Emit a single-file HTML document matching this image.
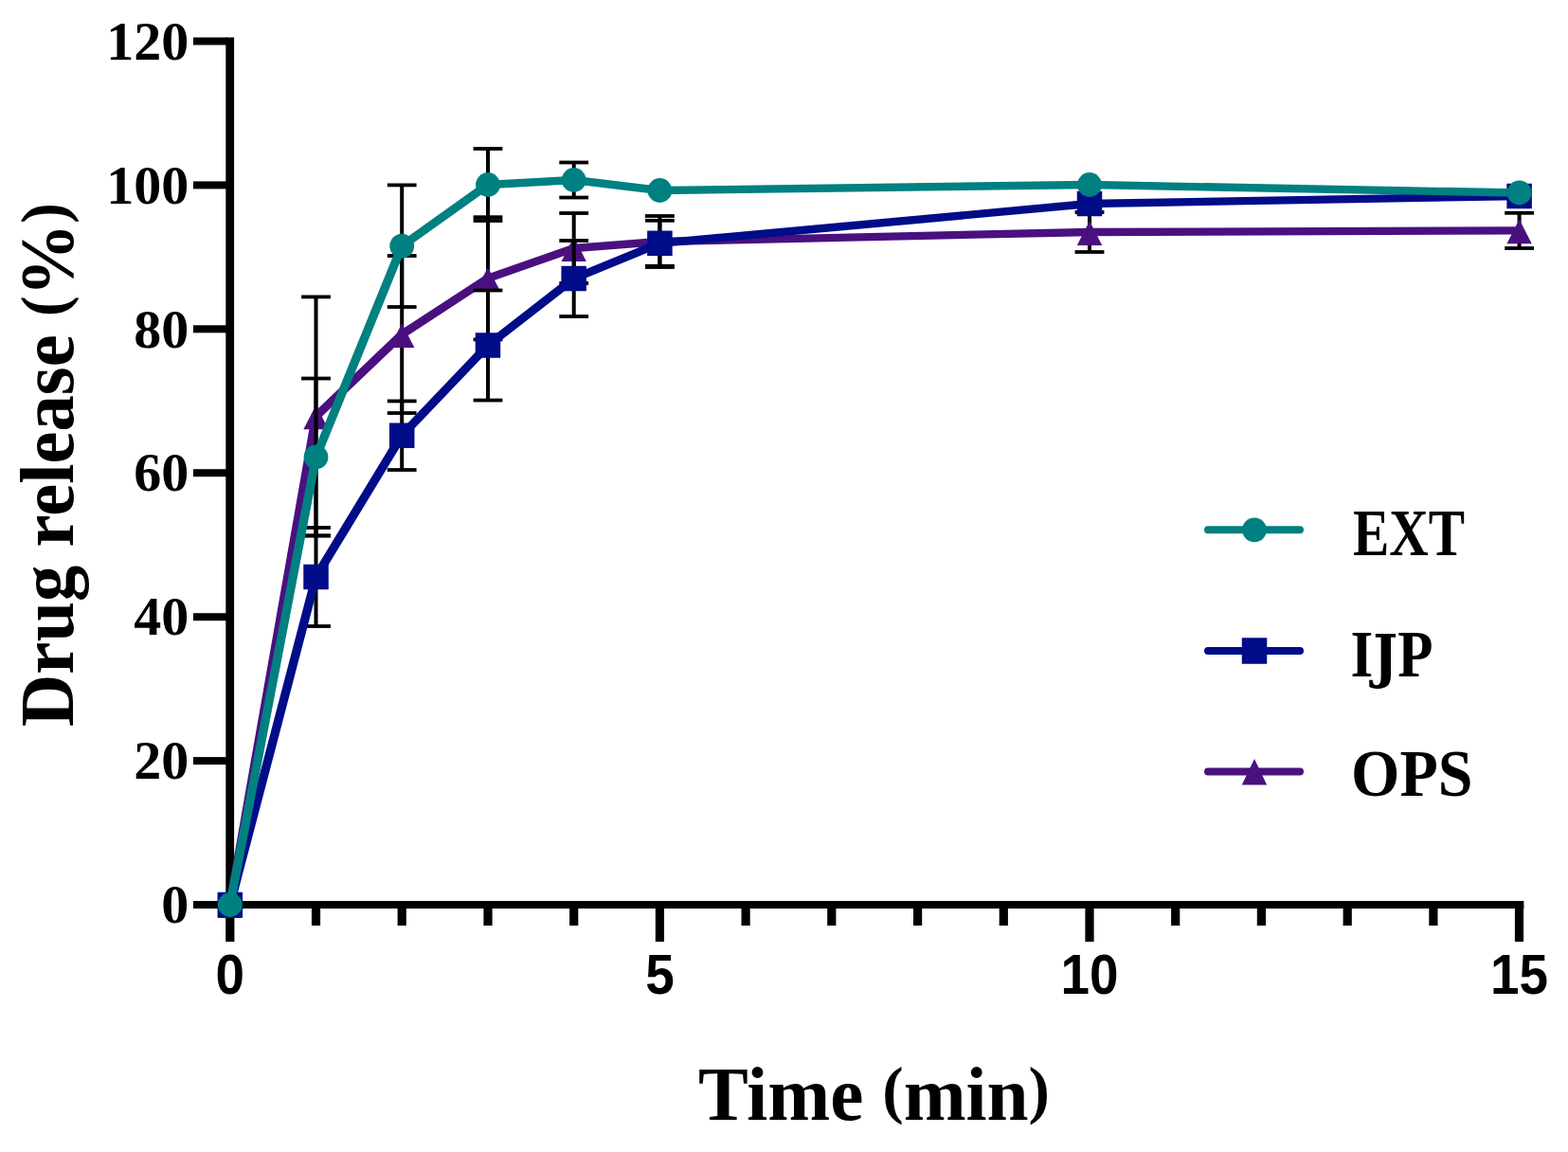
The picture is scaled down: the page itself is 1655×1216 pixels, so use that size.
<!DOCTYPE html>
<html><head><meta charset="utf-8"><title>Drug release</title>
<style>html,body{margin:0;padding:0;background:#fff;}svg{display:block;}</style></head>
<body><svg width="1655" height="1216" viewBox="0 0 1655 1216">
<rect width="1655" height="1216" fill="#fff"/>
<g fill="#000">
<rect x="238.3" y="39.5" width="8.8" height="919.5"/>
<rect x="238.3" y="951" width="1370.1" height="8"/>
<rect x="204" y="951.0" width="36" height="8"/>
<rect x="204" y="799.1" width="36" height="8"/>
<rect x="204" y="647.2" width="36" height="8"/>
<rect x="204" y="495.2" width="36" height="8"/>
<rect x="204" y="343.3" width="36" height="8"/>
<rect x="204" y="191.4" width="36" height="8"/>
<rect x="204" y="39.5" width="36" height="8"/>
<rect x="238.2" y="955" width="9.2" height="39"/>
<rect x="328.9" y="955" width="9.2" height="22"/>
<rect x="419.6" y="955" width="9.2" height="22"/>
<rect x="510.4" y="955" width="9.2" height="22"/>
<rect x="601.1" y="955" width="9.2" height="22"/>
<rect x="691.8" y="955" width="9.2" height="39"/>
<rect x="782.5" y="955" width="9.2" height="22"/>
<rect x="873.2" y="955" width="9.2" height="22"/>
<rect x="964.0" y="955" width="9.2" height="22"/>
<rect x="1054.7" y="955" width="9.2" height="22"/>
<rect x="1145.4" y="955" width="9.2" height="39"/>
<rect x="1236.1" y="955" width="9.2" height="22"/>
<rect x="1326.8" y="955" width="9.2" height="22"/>
<rect x="1417.6" y="955" width="9.2" height="22"/>
<rect x="1508.3" y="955" width="9.2" height="22"/>
<rect x="1598.9" y="955" width="9.2" height="39"/>
</g>
<g font-family="'Liberation Serif', serif" font-weight="bold" font-size="58" text-anchor="end" fill="#000">
<text x="199.3" y="974.2">0</text>
<text x="199.3" y="822.3">20</text>
<text x="199.3" y="670.4">40</text>
<text x="199.3" y="518.4">60</text>
<text x="199.3" y="366.5">80</text>
<text x="199.3" y="214.6">100</text>
<text x="199.3" y="62.7">120</text>
</g>
<g font-family="'Liberation Sans', sans-serif" font-weight="bold" font-size="59" text-anchor="middle" fill="#000">
<text transform="translate(242.8,1049) scale(0.93,1)">0</text>
<text transform="translate(696.4,1049) scale(0.93,1)">5</text>
<text transform="translate(1150.0,1049) scale(0.93,1)">10</text>
<text transform="translate(1603.5,1049) scale(0.93,1)">15</text>
</g>
<g font-family="'Liberation Serif', serif" font-weight="bold" font-size="80" fill="#000">
<text x="737" y="1181.7" textLength="371" lengthAdjust="spacingAndGlyphs">Time <tspan font-size="68" dy="-8.5">(</tspan><tspan dy="8.5">min</tspan><tspan font-size="68" dy="-8.5">)</tspan></text>
<text transform="translate(77,767) rotate(-90)" x="0" y="0" textLength="553" lengthAdjust="spacingAndGlyphs">Drug release <tspan font-size="68" dy="-8.5">(</tspan><tspan dy="8.5">%</tspan><tspan font-size="68" dy="-8.5">)</tspan></text>
</g>
<line x1="333.5" y1="313.4" x2="333.5" y2="565.4" stroke="#000" stroke-width="4"/>
<line x1="318.1" y1="313.4" x2="348.9" y2="313.4" stroke="#000" stroke-width="3.8"/>
<line x1="318.1" y1="565.4" x2="348.9" y2="565.4" stroke="#000" stroke-width="3.8"/>
<line x1="424.2" y1="270.0" x2="424.2" y2="436.0" stroke="#000" stroke-width="4"/>
<line x1="408.8" y1="270.0" x2="439.6" y2="270.0" stroke="#000" stroke-width="3.8"/>
<line x1="408.8" y1="436.0" x2="439.6" y2="436.0" stroke="#000" stroke-width="3.8"/>
<line x1="515.0" y1="229.2" x2="515.0" y2="358.4" stroke="#000" stroke-width="4"/>
<line x1="499.6" y1="229.2" x2="530.4" y2="229.2" stroke="#000" stroke-width="3.8"/>
<line x1="499.6" y1="358.4" x2="530.4" y2="358.4" stroke="#000" stroke-width="3.8"/>
<line x1="605.7" y1="225.0" x2="605.7" y2="299.0" stroke="#000" stroke-width="4"/>
<line x1="590.3" y1="225.0" x2="621.1" y2="225.0" stroke="#000" stroke-width="3.8"/>
<line x1="590.3" y1="299.0" x2="621.1" y2="299.0" stroke="#000" stroke-width="3.8"/>
<line x1="696.4" y1="228.0" x2="696.4" y2="282.0" stroke="#000" stroke-width="4"/>
<line x1="681.0" y1="228.0" x2="711.8" y2="228.0" stroke="#000" stroke-width="3.8"/>
<line x1="681.0" y1="282.0" x2="711.8" y2="282.0" stroke="#000" stroke-width="3.8"/>
<line x1="1150.0" y1="224.0" x2="1150.0" y2="266.0" stroke="#000" stroke-width="4"/>
<line x1="1134.6" y1="224.0" x2="1165.4" y2="224.0" stroke="#000" stroke-width="3.8"/>
<line x1="1134.6" y1="266.0" x2="1165.4" y2="266.0" stroke="#000" stroke-width="3.8"/>
<line x1="1603.6" y1="224.8" x2="1603.6" y2="262.0" stroke="#000" stroke-width="4"/>
<line x1="1588.2" y1="224.8" x2="1619.0" y2="224.8" stroke="#000" stroke-width="3.8"/>
<line x1="1588.2" y1="262.0" x2="1619.0" y2="262.0" stroke="#000" stroke-width="3.8"/>
<g stroke="#4a1080" stroke-linecap="round"><line x1="242.8" y1="955.0" x2="333.5" y2="439.4" stroke-width="9.28"/><line x1="333.5" y1="439.4" x2="424.2" y2="353.0" stroke-width="8.99"/><line x1="424.2" y1="353.0" x2="515.0" y2="293.8" stroke-width="8.85"/><line x1="515.0" y1="293.8" x2="605.7" y2="262.0" stroke-width="8.63"/><line x1="605.7" y1="262.0" x2="696.4" y2="255.0" stroke-width="8.38"/><line x1="696.4" y1="255.0" x2="1150.0" y2="245.0" stroke-width="8.32"/><line x1="1150.0" y1="245.0" x2="1603.6" y2="243.4" stroke-width="8.30"/></g>
<polygon points="242.8,943.2 256.0,968.9 229.6,968.9" fill="#4a1080"/>
<polygon points="333.5,427.6 346.7,453.3 320.3,453.3" fill="#4a1080"/>
<polygon points="424.2,341.2 437.4,366.9 411.0,366.9" fill="#4a1080"/>
<polygon points="515.0,282.0 528.2,307.7 501.8,307.7" fill="#4a1080"/>
<polygon points="605.7,250.2 618.9,275.9 592.5,275.9" fill="#4a1080"/>
<polygon points="696.4,243.2 709.6,268.9 683.2,268.9" fill="#4a1080"/>
<polygon points="1150.0,233.2 1163.2,258.9 1136.8,258.9" fill="#4a1080"/>
<polygon points="1603.6,231.6 1616.8,257.3 1590.4,257.3" fill="#4a1080"/>
<line x1="333.5" y1="557.0" x2="333.5" y2="661.0" stroke="#000" stroke-width="4"/>
<line x1="318.1" y1="557.0" x2="348.9" y2="557.0" stroke="#000" stroke-width="3.8"/>
<line x1="318.1" y1="661.0" x2="348.9" y2="661.0" stroke="#000" stroke-width="3.8"/>
<line x1="424.2" y1="423.4" x2="424.2" y2="496.0" stroke="#000" stroke-width="4"/>
<line x1="408.8" y1="423.4" x2="439.6" y2="423.4" stroke="#000" stroke-width="3.8"/>
<line x1="408.8" y1="496.0" x2="439.6" y2="496.0" stroke="#000" stroke-width="3.8"/>
<line x1="515.0" y1="306.5" x2="515.0" y2="422.5" stroke="#000" stroke-width="4"/>
<line x1="499.6" y1="306.5" x2="530.4" y2="306.5" stroke="#000" stroke-width="3.8"/>
<line x1="499.6" y1="422.5" x2="530.4" y2="422.5" stroke="#000" stroke-width="3.8"/>
<line x1="605.7" y1="254.0" x2="605.7" y2="334.0" stroke="#000" stroke-width="4"/>
<line x1="590.3" y1="254.0" x2="621.1" y2="254.0" stroke="#000" stroke-width="3.8"/>
<line x1="590.3" y1="334.0" x2="621.1" y2="334.0" stroke="#000" stroke-width="3.8"/>
<line x1="696.4" y1="232.8" x2="696.4" y2="280.8" stroke="#000" stroke-width="4"/>
<line x1="681.0" y1="232.8" x2="711.8" y2="232.8" stroke="#000" stroke-width="3.8"/>
<line x1="681.0" y1="280.8" x2="711.8" y2="280.8" stroke="#000" stroke-width="3.8"/>
<g stroke="#000c88" stroke-linecap="round"><line x1="242.8" y1="955.0" x2="333.5" y2="609.0" stroke-width="9.27"/><line x1="333.5" y1="609.0" x2="424.2" y2="459.7" stroke-width="9.15"/><line x1="424.2" y1="459.7" x2="515.0" y2="364.5" stroke-width="9.02"/><line x1="515.0" y1="364.5" x2="605.7" y2="294.0" stroke-width="8.91"/><line x1="605.7" y1="294.0" x2="696.4" y2="256.8" stroke-width="8.68"/><line x1="696.4" y1="256.8" x2="1150.0" y2="215.0" stroke-width="8.39"/><line x1="1150.0" y1="215.0" x2="1603.6" y2="207.0" stroke-width="8.32"/></g>
<rect x="229.55" y="941.75" width="26.5" height="26.5" fill="#000c88"/>
<rect x="320.27" y="595.75" width="26.5" height="26.5" fill="#000c88"/>
<rect x="410.99" y="446.45" width="26.5" height="26.5" fill="#000c88"/>
<rect x="501.71" y="351.25" width="26.5" height="26.5" fill="#000c88"/>
<rect x="592.43" y="280.75" width="26.5" height="26.5" fill="#000c88"/>
<rect x="683.15" y="243.55" width="26.5" height="26.5" fill="#000c88"/>
<rect x="1136.75" y="201.75" width="26.5" height="26.5" fill="#000c88"/>
<rect x="1590.35" y="193.75" width="26.5" height="26.5" fill="#000c88"/>
<line x1="333.5" y1="399.5" x2="333.5" y2="565.5" stroke="#000" stroke-width="4"/>
<line x1="318.1" y1="399.5" x2="348.9" y2="399.5" stroke="#000" stroke-width="3.8"/>
<line x1="318.1" y1="565.5" x2="348.9" y2="565.5" stroke="#000" stroke-width="3.8"/>
<line x1="424.2" y1="195.4" x2="424.2" y2="324.0" stroke="#000" stroke-width="4"/>
<line x1="408.8" y1="195.4" x2="439.6" y2="195.4" stroke="#000" stroke-width="3.8"/>
<line x1="408.8" y1="324.0" x2="439.6" y2="324.0" stroke="#000" stroke-width="3.8"/>
<line x1="515.0" y1="157.0" x2="515.0" y2="233.0" stroke="#000" stroke-width="4"/>
<line x1="499.6" y1="157.0" x2="530.4" y2="157.0" stroke="#000" stroke-width="3.8"/>
<line x1="499.6" y1="233.0" x2="530.4" y2="233.0" stroke="#000" stroke-width="3.8"/>
<line x1="605.7" y1="171.5" x2="605.7" y2="208.5" stroke="#000" stroke-width="4"/>
<line x1="590.3" y1="171.5" x2="621.1" y2="171.5" stroke="#000" stroke-width="3.8"/>
<line x1="590.3" y1="208.5" x2="621.1" y2="208.5" stroke="#000" stroke-width="3.8"/>
<g stroke="#008080" stroke-linecap="round"><line x1="242.8" y1="955.0" x2="333.5" y2="482.5" stroke-width="9.28"/><line x1="333.5" y1="482.5" x2="424.2" y2="259.7" stroke-width="9.23"/><line x1="424.2" y1="259.7" x2="515.0" y2="195.0" stroke-width="8.88"/><line x1="515.0" y1="195.0" x2="605.7" y2="190.0" stroke-width="8.36"/><line x1="605.7" y1="190.0" x2="696.4" y2="201.0" stroke-width="8.42"/><line x1="696.4" y1="201.0" x2="1150.0" y2="195.0" stroke-width="8.31"/><line x1="1150.0" y1="195.0" x2="1603.6" y2="203.5" stroke-width="8.32"/></g>
<circle cx="242.8" cy="955.0" r="12.9" fill="#008080"/>
<circle cx="333.5" cy="482.5" r="12.9" fill="#008080"/>
<circle cx="424.2" cy="259.7" r="12.9" fill="#008080"/>
<circle cx="515.0" cy="195.0" r="12.9" fill="#008080"/>
<circle cx="605.7" cy="190.0" r="12.9" fill="#008080"/>
<circle cx="696.4" cy="201.0" r="12.9" fill="#008080"/>
<circle cx="1150.0" cy="195.0" r="12.9" fill="#008080"/>
<circle cx="1603.6" cy="203.5" r="12.9" fill="#008080"/>
<line x1="1275" y1="559.3" x2="1372" y2="559.3" stroke="#008080" stroke-width="8" stroke-linecap="round"/>
<circle cx="1324.0" cy="559.3" r="12.9" fill="#008080"/>
<text x="1428" y="585.5" font-family="'Liberation Serif', serif" font-weight="bold" font-size="69" textLength="118" lengthAdjust="spacingAndGlyphs" fill="#000">EXT</text>
<line x1="1275" y1="687" x2="1372" y2="687" stroke="#000c88" stroke-width="8" stroke-linecap="round"/>
<rect x="1310.75" y="673.25" width="26.5" height="27.5" fill="#000c88"/>
<text x="1425.5" y="713.5" font-family="'Liberation Serif', serif" font-weight="bold" font-size="69" textLength="87" lengthAdjust="spacingAndGlyphs" fill="#000">I<tspan font-family="'DejaVu Serif', serif" font-size="62">J</tspan>P</text>
<line x1="1275" y1="814.5" x2="1372" y2="814.5" stroke="#4a1080" stroke-width="8" stroke-linecap="round"/>
<polygon points="1324.0,800.9 1337.2,828.4 1310.8,828.4" fill="#4a1080"/>
<text x="1426" y="840.3" font-family="'Liberation Serif', serif" font-weight="bold" font-size="69" textLength="128.5" lengthAdjust="spacingAndGlyphs" fill="#000">OPS</text>
</svg></body></html>
